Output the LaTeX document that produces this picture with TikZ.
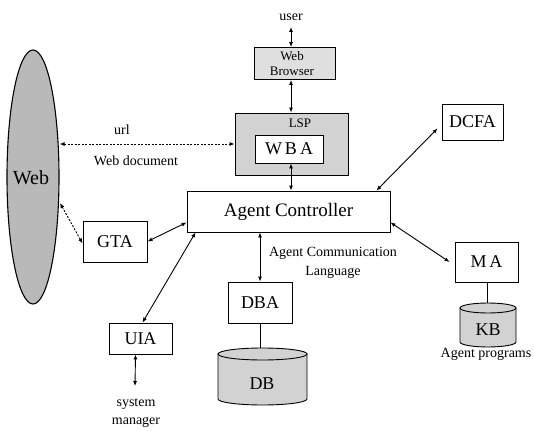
\documentclass[tikz,border=0pt]{standalone}
\usepackage{fontspec}
\setmainfont{Liberation Serif}
\usetikzlibrary{shapes.geometric,arrows.meta}
\begin{document}
\begin{tikzpicture}[x=1pt,y=-1pt,
  box/.style={draw,line width=0.9pt,fill=white,inner sep=0pt},
  shade/.style={draw,line width=0.9pt,fill=gray!35,inner sep=0pt},
  big/.style={font=\fontsize{18}{20}\selectfont},
  small/.style={font=\fontsize{14}{19}\selectfont},
  tiny/.style={font=\fontsize{13}{15}\selectfont},
  link/.style={line width=0.9pt,{Latex[length=5pt,width=4pt]}-{Latex[length=5pt,width=4pt]}},
  dlink/.style={line width=0.9pt,dashed,dash pattern=on 2pt off 1.5pt,{Latex[length=5pt,width=4pt]}-{Latex[length=5pt,width=4pt]}},
  cyl/.style={draw,line width=0.9pt,fill=gray!35}
]
\useasboundingbox (0,0) rectangle (534,430);
% Web ellipse
\node[ellipse,draw,line width=1.1pt,fill=gray!55,minimum width=52pt,minimum height=254pt,inner sep=0pt] (web) at (33,177) {};
\node[font=\fontsize{20}{22}\selectfont] (webl) at (31,178) {Web};
% Web browser
\node[shade,fill=gray!25,minimum width=81pt,minimum height=32pt] (wb) at (294.5,63.5) {};
\node[tiny,align=center] (wbl) at (292,64) {Web\\Browser};
\node[small] (user) at (291,17) {user};
% LSP
\node[shade,minimum width=113pt,minimum height=62pt] (lsp) at (291.5,144) {};
\node[tiny] (lspl) at (300,123) {LSP};
\node[box,big,minimum width=68pt,minimum height=28pt] (wba) at (289,149) {W\,B\,A};
% Agent controller
\node[box,minimum width=203pt,minimum height=41pt,font=\fontsize{19}{21}\selectfont] (ac) at (288.5,211.5) {Agent Controller};
\draw[line width=1.5pt] (ac.north east) -- (ac.south east) -- (ac.south west);
% DCFA
\node[box,big,minimum width=61pt,minimum height=36pt] (dcfa) at (472.5,122) {DCFA};
% GTA
\node[box,big,minimum width=64pt,minimum height=41pt] (gta) at (115,241.5) {GTA};
% UIA
\node[box,big,minimum width=63pt,minimum height=31pt] (uia) at (140.5,338.5) {UIA};
% DBA
\node[box,big,minimum width=64pt,minimum height=41pt] (dba) at (260,302.5) {DBA};
% MA
\node[box,big,minimum width=63pt,minimum height=40pt] (ma) at (486.5,262) {M\,A};
% DB cylinder
\draw[cyl] (218,354) -- (218,399) arc[start angle=180,end angle=360,x radius=44.5pt,y radius=6pt] -- (307,354) -- cycle;
\draw[cyl] (262.5,354) ellipse [x radius=44.5pt,y radius=6pt];
\coordinate (dbtop) at (260,348);
\node[big] (dbl) at (262,384) {DB};
% KB cylinder
\draw[cyl] (460,308) -- (460,342) arc[start angle=180,end angle=360,x radius=28pt,y radius=5pt] -- (516,308) -- cycle;
\draw[cyl] (488,308) ellipse [x radius=28pt,y radius=5pt];
\coordinate (kbtop) at (487,303);
\node[big] (kbl) at (488,330) {KB};
% texts
\node[small] (url) at (122,130) {url};
\node[small] (wdoc) at (136,161) {Web document};
\node[small,align=center] (acl) at (333,263) {Agent Communication\\Language};
\node[small,align=center,font=\fontsize{14}{18}\selectfont] (sysm) at (136,413) {system\\manager};
\node[small] (ap) at (486,354) {Agent programs};
% coordinates
\coordinate (u1) at (291,27);
\coordinate (sm1) at (135,386);
% connectors
\draw[link] (u1) -- (wb.north -| u1);
\draw[link] (wb.south -| u1) -- (lsp.north -| u1);
\draw[link] (wba.south -| u1) -- (ac.north -| u1);
\draw[link] ([xshift=-4pt,yshift=12pt]dcfa.south west) -- ([xshift=-14pt]ac.north east);
\draw[link] (gta.east) -- ([yshift=10pt]ac.south west);
\draw[link] ([xshift=2pt]uia.north) -- ([xshift=9pt]ac.south west);
\draw[link] (ac.south -| dba.north) -- (dba.north);
\draw[link] ([yshift=10pt]ac.south east) -- ([xshift=-5pt]ma.west);
\draw[link] ([xshift=-5pt]uia.south) -- (sm1);
\draw[line width=0.6pt] (dba.south) -- (dbtop);
\draw[line width=0.6pt] (ma.south -| kbtop) -- (kbtop);
\draw[dlink] (web.east |- 0,144) -- (lsp.west |- 0,144);
\draw[dlink] (60,203) -- ([yshift=-2pt]gta.west);
\end{tikzpicture}
\end{document}
